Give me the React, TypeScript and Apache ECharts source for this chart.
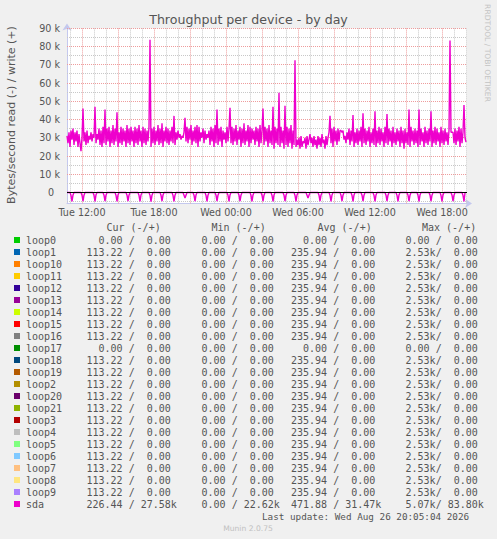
import React, { useEffect, useRef } from 'react';
import * as echarts from 'echarts';

// ---- time axis (minutes since Tue 00:00), one sample every 5 minutes ----
const START_MIN = 645; // Tue 10:45
const END_MIN = 2645; // Wed 20:05
const STEP_MIN = 5;

// sda write (+), kB/s per 5-minute sample
const sdaWriteK = [
  31, 27, 33, 25, 34, 29, 35, 26, 33, 28,
  34, 25, 32, 27, 22.62, 30, 46, 28, 33, 26,
  34, 27, 31, 29, 33, 28, 32, 30, 47, 27,
  32, 29, 35, 26, 34, 25, 36, 27, 45.5, 26,
  35, 28, 36, 25, 34, 27, 37, 26, 35, 28,
  44, 25, 33, 27, 36, 26, 35, 28, 34, 25,
  37, 27, 35, 26, 36, 28, 34, 25, 36, 27,
  35, 26, 37, 28, 34, 25, 36, 27, 35, 26,
  34, 28, 36, 83.8, 25, 35, 27, 36, 26, 34,
  28, 37, 26, 35, 27, 38, 25, 34, 28, 36,
  27, 35, 26, 34, 28, 36, 27, 42, 26, 33,
  29, 34, 30, 32, 29, 31, 30, 33, 41, 28,
  36, 27, 35, 29, 37, 26, 34, 28, 36, 27,
  37, 25, 36, 28, 33, 30, 35, 27, 34, 29,
  32, 30, 34, 26, 36, 28, 35, 25, 37, 27,
  45.5, 26, 35, 28, 36, 25, 34, 29, 33, 27,
  36, 28, 35, 46.5, 27, 36, 26, 35, 28, 37,
  26, 34, 29, 36, 25, 35, 27, 38, 26, 34,
  28, 37, 25, 36, 27, 35, 29, 34, 26, 36,
  28, 35, 25, 37, 27, 34, 46, 26, 36, 28,
  35, 25, 37, 27, 34, 26, 47, 24, 36, 27,
  35, 26, 54.7, 25, 36, 27, 34, 24, 47.5, 26,
  36, 25, 35, 27, 37, 24, 34, 26, 72.5, 25,
  29, 26, 30, 24, 31, 25, 28, 27, 30, 24,
  31, 26, 29, 32, 27, 30, 25, 31, 26, 29,
  24, 31, 26, 30, 25, 32, 27, 29, 24, 31,
  26, 30, 33, 42, 27, 35, 25, 36, 28, 34,
  26, 35, 28, 34, 34, 33, 34, 29, 31, 27,
  33, 29, 35, 26, 34, 28, 42.5, 25, 33, 27,
  35, 26, 34, 28, 36, 25, 43.5, 27, 35, 26,
  34, 28, 36, 25, 33, 27, 35, 26, 44.5, 25,
  34, 27, 36, 26, 35, 28, 33, 25, 36, 27,
  43, 26, 35, 28, 34, 25, 36, 27, 33, 26,
  35, 28, 34, 25, 36, 27, 34, 24, 35, 27,
  33, 26, 45.5, 25, 36, 28, 34, 26, 35, 27,
  34, 25, 45.5, 26, 35, 28, 33, 25, 36, 27,
  34, 26, 35, 28, 44.5, 25, 34, 27, 36, 26,
  35, 28, 33, 25, 36, 27, 34, 26, 35, 28,
  33, 26, 34, 83.3, 33, 33, 33, 27, 35, 26,
  34, 28, 36, 25, 35, 27, 33, 48, 30, 27.58,
];

// sda read (-): samples that are not zero, [sample index, kB/s]
const sdaReadNonZeroK: [number, number][] = [
  [4, 1.6], [5, 4.9], [6, 1.4],
  [15, 1.5], [16, 4.8], [17, 1.5],
  [27, 1.6], [28, 4.9], [29, 1.3],
  [37, 1.5], [38, 4.8], [39, 1.5],
  [49, 1.6], [50, 4.9], [51, 1.4],
  [60, 1.5], [61, 4.8], [62, 1.5],
  [72, 1.6], [73, 4.9], [74, 1.4],
  [83, 1.6], [84, 5.07], [85, 1.5],
  [94, 1.5], [95, 4.8], [96, 1.4],
  [106, 1.6], [107, 4.9], [108, 1.5],
  [117, 1.5], [118, 3.0], [119, 1.5],
  [127, 1.5], [128, 4.8], [129, 1.4],
  [139, 1.6], [140, 4.9], [141, 1.5],
  [149, 1.5], [150, 4.8], [151, 1.5],
  [161, 1.6], [162, 4.9], [163, 1.4],
  [172, 1.5], [173, 4.8], [174, 1.5],
  [184, 1.6], [185, 4.9], [186, 1.4],
  [195, 1.5], [196, 4.8], [197, 1.5],
  [205, 1.6], [206, 4.9], [207, 1.4],
  [217, 1.5], [218, 4.8], [219, 1.5],
  [228, 1.6], [229, 4.9], [230, 1.4],
  [240, 1.5], [241, 3.0], [242, 1.5],
  [252, 1.5], [253, 4.8], [254, 1.5],
  [263, 1.6], [264, 4.9], [265, 1.4],
  [274, 1.5], [275, 4.8], [276, 1.5],
  [285, 1.6], [286, 4.9], [287, 1.4],
  [295, 1.5], [296, 4.8], [297, 1.5],
  [307, 1.6], [308, 4.9], [309, 1.4],
  [319, 1.5], [320, 4.8], [321, 1.5],
  [330, 1.6], [331, 4.9], [332, 1.4],
  [341, 1.5], [342, 4.8], [343, 1.5],
  [351, 1.6], [352, 4.9], [353, 1.4],
  [363, 1.5], [364, 4.8], [365, 1.5],
  [374, 1.6], [375, 4.9], [376, 1.4],
  [385, 1.5], [386, 4.8], [387, 1.5],
  [396, 1.6], [397, 4.9], [398, 0.23],
];

// axis ticks / labels
const xLabelMinutes = [720, 1080, 1440, 1800, 2160, 2520];
const xLabels = ['Tue 12:00', 'Tue 18:00', 'Wed 00:00', 'Wed 06:00', 'Wed 12:00', 'Wed 18:00'];
const xMajorGrid = [720, 900, 1080, 1260, 1440, 1620, 1800, 1980, 2160, 2340, 2520];
const xMinorGrid = [660, 780, 840, 960, 1020, 1140, 1200, 1320, 1380, 1500, 1560, 1680, 1740, 1860, 1920, 2040, 2100, 2220, 2280, 2400, 2460, 2580, 2640];
const yLabelValues = [0, 10000, 20000, 30000, 40000, 50000, 60000, 70000, 80000, 90000];
const yLabels = ['0', '10 k', '20 k', '30 k', '40 k', '50 k', '60 k', '70 k', '80 k', '90 k'];
const yMajorGrid = [10000, 20000, 30000, 40000, 50000, 60000, 70000, 80000, 90000];
const yMinorGrid = [-5000, 5000, 15000, 25000, 35000, 45000, 55000, 65000, 75000, 85000];

// legend table
const legendNames = ['loop0', 'loop1', 'loop10', 'loop11', 'loop12', 'loop13', 'loop14', 'loop15', 'loop16', 'loop17', 'loop18', 'loop19', 'loop2', 'loop20', 'loop21', 'loop3', 'loop4', 'loop5', 'loop6', 'loop7', 'loop8', 'loop9', 'sda'];
const legendColors = ['#00CC00', '#0066B3', '#FF8000', '#FFCC00', '#330099', '#990099', '#CCFF00', '#FF0000', '#808080', '#008F00', '#00487D', '#B35A00', '#B38F00', '#6B006B', '#8FB300', '#B30000', '#BEBEBE', '#80FF80', '#80C9FF', '#FFC080', '#FFE680', '#AA80FF', '#EE00CC'];
const L = '113.22', Z = '0.00', A = '235.94', M = '2.53k';
const curRead = [Z, L, L, L, L, L, L, L, L, Z, L, L, L, L, L, L, L, L, L, L, L, L, '226.44'];
const curWrite = [Z, Z, Z, Z, Z, Z, Z, Z, Z, Z, Z, Z, Z, Z, Z, Z, Z, Z, Z, Z, Z, Z, '27.58k'];
const minRead = [Z, Z, Z, Z, Z, Z, Z, Z, Z, Z, Z, Z, Z, Z, Z, Z, Z, Z, Z, Z, Z, Z, Z];
const minWrite = [Z, Z, Z, Z, Z, Z, Z, Z, Z, Z, Z, Z, Z, Z, Z, Z, Z, Z, Z, Z, Z, Z, '22.62k'];
const avgRead = [Z, A, A, A, A, A, A, A, A, Z, A, A, A, A, A, A, A, A, A, A, A, A, '471.88'];
const avgWrite = [Z, Z, Z, Z, Z, Z, Z, Z, Z, Z, Z, Z, Z, Z, Z, Z, Z, Z, Z, Z, Z, Z, '31.47k'];
const maxRead = [Z, M, M, M, M, M, M, M, M, Z, M, M, M, M, M, M, M, M, M, M, M, M, '5.07k'];
const maxWrite = [Z, Z, Z, Z, Z, Z, Z, Z, Z, Z, Z, Z, Z, Z, Z, Z, Z, Z, Z, Z, Z, Z, '83.80k'];
const columnHeaders = ['Cur (-/+)', 'Min (-/+)', 'Avg (-/+)', 'Max (-/+)'];

const TITLE = 'Throughput per device - by day';
const Y_TITLE = 'Bytes/second read (-) / write (+)';
const LAST_UPDATE = 'Last update: Wed Aug 26 20:05:04 2026';
const SIDE_TEXT = 'RRDTOOL / TOBI OETIKER';
const FOOTER = 'Munin 2.0.75';

const SANS = '"DejaVu Sans", sans-serif';
const MONO = '"DejaVu Sans Mono", monospace';
const TEXT = '#555555';
const AXIS = '#c4c8ee';
const MINOR = '#c8c8c8';
const MAJOR = '#ee9c9c';
const SDA = '#EE00CC';
const CW = 6.02;

function splitVal(s: string) {
  const k = s.endsWith('k');
  return { num: k ? s.slice(0, -1) : s, unit: k ? 'k' : ' ' };
}

function monoText(x: number, y: number, text: string) {
  return {
    type: 'text', x, y, silent: true,
    style: { text, fill: TEXT, fontSize: 10, fontFamily: MONO, verticalAlign: 'middle', align: 'left' },
  };
}

function pairTexts(fs: number, y: number, a: string, b: string) {
  const pa = splitVal(a), pb = splitVal(b);
  return [
    monoText(fs + (6 - pa.num.length) * CW, y, pa.num + pa.unit + '/'),
    monoText(fs + 8 * CW + (6 - pb.num.length) * CW, y, pb.num + (pb.unit === 'k' ? 'k' : '')),
  ];
}

export default function App() {
  const ref = useRef<HTMLDivElement>(null);
  useEffect(() => {
    document.body.style.margin = '0';
    if (!ref.current) return;
    const chart = echarts.init(ref.current, undefined, { renderer: 'svg' });

    const writeData = sdaWriteK.map((v, i) => [START_MIN + i * STEP_MIN, v * 1000]);
    const readK = sdaWriteK.map(() => 0);
    sdaReadNonZeroK.forEach(([i, v]) => { readK[i] = v; });
    const readData = readK.map((v, i) => [START_MIN + i * STEP_MIN, -v * 1000]);

    const option: any = {
      animation: false,
      backgroundColor: '#f0f0f0',
      grid: { left: 67, top: 28.4, width: 400, height: 175, show: true, backgroundColor: '#ffffff', borderWidth: 0 },
      xAxis: {
        type: 'value', min: START_MIN, max: END_MIN, interval: 15,
        axisLine: { show: true, onZero: false, lineStyle: { color: AXIS, width: 1 }, symbol: ['none', 'arrow'], symbolSize: [7, 7], symbolOffset: [0, 5] },
        axisTick: { show: false },
        splitLine: { show: false },
        axisLabel: {
          color: TEXT, fontSize: 9.6, fontFamily: SANS, margin: 4,
          formatter: (v: number) => {
            const k = xLabelMinutes.indexOf(Math.round(v));
            return k >= 0 ? xLabels[k] : '';
          },
        },
      },
      yAxis: {
        type: 'value', min: -6000, max: 90000, interval: 1000,
        axisLine: { show: true, lineStyle: { color: AXIS, width: 1 }, symbol: ['none', 'arrow'], symbolSize: [7, 7], symbolOffset: [0, 5] },
        axisTick: { show: false },
        splitLine: { show: false },
        axisLabel: {
          color: TEXT, fontSize: 9.6, fontFamily: SANS, margin: 7,
          formatter: (v: number) => {
            const k = yLabelValues.indexOf(Math.round(v));
            if (k < 0) return '';
            return k === 0 ? '{z|' + yLabels[0] + '}' : yLabels[k];
          },
          rich: { z: { color: TEXT, fontSize: 9.6, fontFamily: SANS, padding: [0, 6, 0, 0] } },
        },
      },
      series: [
        {
          name: 'sda write', type: 'line', data: writeData, symbol: 'none', showSymbol: false, silent: true, z: 3,
          lineStyle: { color: SDA, width: 1.4 }, itemStyle: { color: SDA },
        },
        {
          name: 'sda read', type: 'line', data: readData, symbol: 'none', showSymbol: false, silent: true, z: 3,
          lineStyle: { color: SDA, width: 1.4 }, itemStyle: { color: SDA },
        },
      ],
    };
    chart.setOption(option);

    // crisp dotted grid lines placed through the chart's own scales
    const px = (x: number, y: number) => chart.convertToPixel({ gridIndex: 0 }, [x, y]) as number[];
    const tl = px(START_MIN, 90000);
    const br = px(END_MIN, -6000);
    const left = tl[0], right = br[0], top = tl[1], bottom = br[1];
    const snap = (v: number) => Math.floor(v) + 0.5;
    const graphics: any[] = [];
    const hLine = (v: number, color: string, dash: boolean, z: number) => {
      const y = snap(px(START_MIN, v)[1]);
      graphics.push({ type: 'line', silent: true, z, shape: { x1: left, y1: y, x2: right, y2: y }, style: { stroke: color, lineWidth: 1, lineDash: dash ? [1, 1] : null } });
    };
    const vLine = (m: number, color: string) => {
      const x = snap(px(m, 0)[0]);
      graphics.push({ type: 'line', silent: true, z: 1, shape: { x1: x, y1: top, x2: x, y2: bottom }, style: { stroke: color, lineWidth: 1, lineDash: [1, 1] } });
    };
    yMinorGrid.forEach((v) => hLine(v, MINOR, true, 1));
    xMinorGrid.forEach((m) => vLine(m, MINOR));
    yMajorGrid.forEach((v) => hLine(v, MAJOR, true, 1));
    xMajorGrid.forEach((m) => vLine(m, MAJOR));
    hLine(0, '#000000', false, 5);

    graphics.push({ type: 'text', x: 248.5, y: 19, silent: true, style: { text: TITLE, fill: TEXT, fontSize: 12.6, fontFamily: SANS, align: 'center', verticalAlign: 'middle' } });
    graphics.push({ type: 'text', x: 11, y: 115, rotation: Math.PI / 2, silent: true, style: { text: Y_TITLE, fill: TEXT, fontSize: 11, fontFamily: SANS, align: 'center', verticalAlign: 'middle' } });
    graphics.push({ type: 'text', x: 487.5, y: 53, rotation: -Math.PI / 2, silent: true, style: { text: SIDE_TEXT, fill: '#c4c4c4', fontSize: 7.6, fontFamily: SANS, align: 'center', verticalAlign: 'middle' } });
    graphics.push({ type: 'text', x: 248, y: 528, silent: true, style: { text: FOOTER, fill: '#c0c0c0', fontSize: 7.6, fontFamily: SANS, align: 'center', verticalAlign: 'middle' } });

    const headerX = [106.5, 211.5, 317.5, 422];
    columnHeaders.forEach((h, i) => graphics.push(monoText(headerX[i], 227, h)));
    const fsCols = [86.5, 189.5, 291, 393.5];
    legendNames.forEach((name, r) => {
      const y = 240 + r * 12;
      graphics.push({ type: 'rect', silent: true, shape: { x: 14, y: y - 3, width: 6, height: 6 }, style: { fill: legendColors[r] } });
      graphics.push(monoText(26, y, name));
      graphics.push(...pairTexts(fsCols[0], y, curRead[r], curWrite[r]));
      graphics.push(...pairTexts(fsCols[1], y, minRead[r], minWrite[r]));
      graphics.push(...pairTexts(fsCols[2], y, avgRead[r], avgWrite[r]));
      graphics.push(...pairTexts(fsCols[3], y, maxRead[r], maxWrite[r]));
    });
    graphics.push({ type: 'text', x: 262, y: 516, silent: true, style: { text: LAST_UPDATE, fill: TEXT, fontSize: 9.3, fontFamily: MONO, align: 'left', verticalAlign: 'middle' } });

    chart.setOption({ graphic: graphics });
    return () => chart.dispose();
  }, []);
  return <div ref={ref} style={{ width: 497, height: 539 }} />;
}
